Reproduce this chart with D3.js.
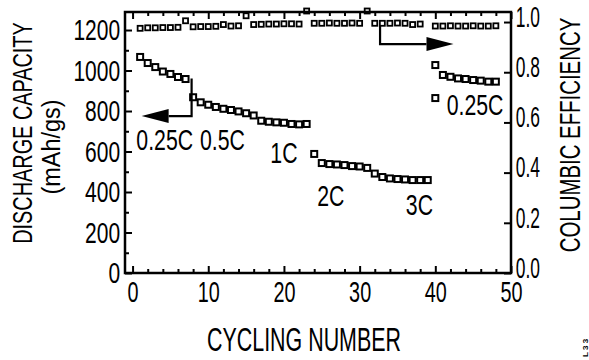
<!DOCTYPE html>
<html>
<head>
<meta charset="utf-8">
<script src="https://cdn.jsdelivr.net/npm/d3@7/dist/d3.min.js"></script>
<style>
  body { margin: 0; background: #fff; }
  svg text { font-family: "Liberation Sans", Arial, sans-serif; fill: #000; }
  .axis path.domain { display: none; }
  .axis line { stroke: #000; stroke-width: 2; }
</style>
</head>
<body>
<svg width="589" height="360"></svg>
<script>
// cycle numbers and discharge capacity (mAh/g)
var capCycles = [1, 2, 3, 4, 5, 6, 7,
    8, 9, 10, 11, 12, 13, 14, 15,
    16, 17, 18, 19, 20, 21, 22, 23,
    24, 25, 26, 27, 28, 29, 30, 31,
    32, 33, 34, 35, 36, 37, 38, 39,
    40, 41, 42, 43, 44, 45, 46, 47, 48];
var capacity = [1067, 1037, 1017, 995, 983, 968, 958,
    868, 843, 831, 820, 811, 805, 798, 789,
    778, 752, 747, 744, 742, 736, 734, 736,
    588, 543, 538, 536, 533, 528, 526, 519,
    491, 474, 467, 464, 462, 459, 459, 459,
    1027, 978, 969, 961, 958, 953, 950, 945, 945];
// stray point at the start of the last 0.25C step
var extraCycles = [40];
var extraCapacity = [864];

// columbic efficiency
var effCycles = [1, 2, 3, 4, 5, 6, 7,
    8, 9, 10, 11, 12, 13, 14, 15,
    16, 17, 18, 19, 20, 21, 22, 23,
    24, 25, 26, 27, 28, 29, 30, 31,
    32, 33, 34, 35, 36, 37, 38,
    40, 41, 42, 43, 44, 45, 46, 47, 48];
var efficiency = [0.975, 0.977, 0.977, 0.978, 0.978, 0.979, 1.005,
    0.981, 0.982, 0.982, 0.983, 0.990, 0.984, 0.985, 1.025,
    0.990, 0.991, 0.992, 0.992, 0.993, 0.993, 0.992, 1.044,
    0.995, 0.995, 0.996, 0.995, 0.995, 0.996, 0.995, 1.044,
    0.995, 0.995, 0.995, 0.996, 0.995, 0.990, 0.992,
    0.984, 0.984, 0.985, 0.984, 0.984, 0.985, 0.984, 0.984, 0.985];

var xTicks = [0, 10, 20, 30, 40, 50];
var xMinor = [2, 4, 6, 8, 12, 14, 16, 18, 22, 24, 26, 28, 32, 34, 36, 38, 42, 44, 46, 48];
var yTicks = [0, 200, 400, 600, 800, 1000, 1200];
var yMinor = [100, 300, 500, 700, 900, 1100];
var effTicks = [0, 0.2, 0.4, 0.6, 0.8, 1.0];

// rate labels: [text, cycle, capacity at baseline]
var rateLabels = [["0.25C", 0.5, 607], ["0.5C", 8.9, 607], ["1C", 18.2, 543],
    ["2C", 24.4, 331], ["3C", 36.1, 286], ["0.25C", 41.5, 780]];

var svg = d3.select("svg");

var x = d3.scaleLinear().domain([-1, 50]).range([125, 511]),
    y = d3.scaleLinear().domain([0, 1289]).range([273, 12]),
    y2 = d3.scaleLinear().domain([0, 1.04]).range([273, 12]);

// the drawing uses a tall condensed face: squeeze text horizontally
function squeeze(sel, size, k) {
    sel.style("font-size", size + "px")
        .attr("transform", function() {
            var t = d3.select(this).attr("transform") || "";
            return t + " scale(" + k + ",1)";
        });
}

// axes (ticks point inward)
var gx = svg.append("g").attr("class", "axis")
    .attr("transform", "translate(0,273)")
    .call(d3.axisBottom(x).tickValues(xTicks).tickSizeInner(-7).tickSizeOuter(0).tickPadding(8));
gx.selectAll("text").call(squeeze, 30, 0.66);
svg.append("g").attr("class", "axis")
    .attr("transform", "translate(0,273)")
    .call(d3.axisBottom(x).tickValues(xMinor).tickSizeInner(-4).tickSizeOuter(0).tickFormat(""));
svg.append("g").attr("class", "axis")
    .attr("transform", "translate(0,12)")
    .call(d3.axisTop(x).tickValues(xTicks).tickSizeInner(-7).tickSizeOuter(0).tickFormat(""));
svg.append("g").attr("class", "axis")
    .attr("transform", "translate(0,12)")
    .call(d3.axisTop(x).tickValues(xMinor).tickSizeInner(-4).tickSizeOuter(0).tickFormat(""));

var gy = svg.append("g").attr("class", "axis")
    .attr("transform", "translate(125,0)")
    .call(d3.axisLeft(y).tickValues(yTicks).tickSizeInner(-7).tickSizeOuter(0).tickPadding(7)
        .tickFormat(d3.format("d")));
gy.selectAll("text").call(squeeze, 30, 0.7);
svg.append("g").attr("class", "axis")
    .attr("transform", "translate(125,0)")
    .call(d3.axisLeft(y).tickValues(yMinor).tickSizeInner(-4).tickSizeOuter(0).tickFormat(""));

var gy2 = svg.append("g").attr("class", "axis")
    .attr("transform", "translate(511,0)")
    .call(d3.axisRight(y2).tickValues(effTicks).tickSizeInner(-7).tickSizeOuter(0).tickPadding(8)
        .tickFormat(d3.format(".1f")));
gy2.selectAll("text").attr("dy", "0.15em").call(squeeze, 29, 0.6);

// frame
svg.append("rect")
    .attr("x", 125).attr("y", 12).attr("width", 386).attr("height", 261)
    .attr("fill", "none").attr("stroke", "#000").attr("stroke-width", 2.5);

// axis titles
svg.append("text")
    .attr("transform", "translate(32,133) rotate(-90) scale(0.71,1)")
    .attr("text-anchor", "middle").style("font-size", "28px")
    .text("DISCHARGE CAPACITY");
svg.append("text")
    .attr("transform", "translate(60,147) rotate(-90) scale(0.9,1)")
    .attr("text-anchor", "middle").style("font-size", "26px")
    .text("(mAh/gs)");
svg.append("text")
    .attr("transform", "translate(580,135) rotate(-90) scale(0.68,1)")
    .attr("text-anchor", "middle").style("font-size", "30px")
    .text("COLUMBIC EFFICIENCY");
svg.append("text")
    .attr("transform", "translate(304,351) scale(0.63,1)")
    .attr("text-anchor", "middle").style("font-size", "34px")
    .text("CYCLING NUMBER");

// efficiency markers
svg.append("g").selectAll("rect")
    .data(effCycles)
    .enter().append("rect")
        .attr("x", function(d) { return x(d) - 2.5; })
        .attr("y", function(d, i) { return y2(efficiency[i]) - 2.5; })
        .attr("width", 5).attr("height", 5)
        .attr("fill", "none").attr("stroke", "#000").attr("stroke-width", 1.8);

// capacity markers
var capAll = capacity.concat(extraCapacity);
svg.append("g").selectAll("rect")
    .data(capCycles.concat(extraCycles))
    .enter().append("rect")
        .attr("x", function(d) { return x(d) - 3; })
        .attr("y", function(d, i) { return y(capAll[i]) - 3; })
        .attr("width", 6).attr("height", 6)
        .attr("fill", "none").attr("stroke", "#000").attr("stroke-width", 2);

// arrows: [cycle, value] corners, last point is the tip
var leftArrow = [[7.8, 961], [7.8, 775], [1.2, 775]];
var rightArrow = [[32.7, 0.988], [32.7, 0.912], [42.4, 0.912]];

function arrow(pts, yScale) {
    var p = pts.map(function(d) { return [x(d[0]), yScale(d[1])]; });
    var tip = p[p.length - 1], prev = p[p.length - 2];
    var dir = tip[0] > prev[0] ? 1 : -1;
    var base = tip[0] - dir * 27;
    svg.append("path")
        .attr("d", d3.line()(p.slice(0, -1).concat([[base, tip[1]]])))
        .attr("fill", "none").attr("stroke", "#000").attr("stroke-width", 2.2);
    svg.append("path")
        .attr("d", "M" + tip[0] + "," + tip[1] + "L" + base + "," + (tip[1] - 7) + "L" + base + "," + (tip[1] + 7) + "Z")
        .attr("fill", "#000");
}
arrow(leftArrow, y);
arrow(rightArrow, y2);

// rate labels
svg.append("g").selectAll("text")
    .data(rateLabels)
    .enter().append("text")
        .attr("transform", function(d) { return "translate(" + x(d[1]) + "," + y(d[2]) + ") scale(0.71,1)"; })
        .style("font-size", "30px")
        .text(function(d) { return d[0]; });

// clipped margin mark at the bottom right
svg.append("text")
    .attr("transform", "translate(588,357) rotate(-90)")
    .style("font-size", "8px").style("font-weight", "bold")
    .text("L   3 3");
</script>
</body>
</html>
